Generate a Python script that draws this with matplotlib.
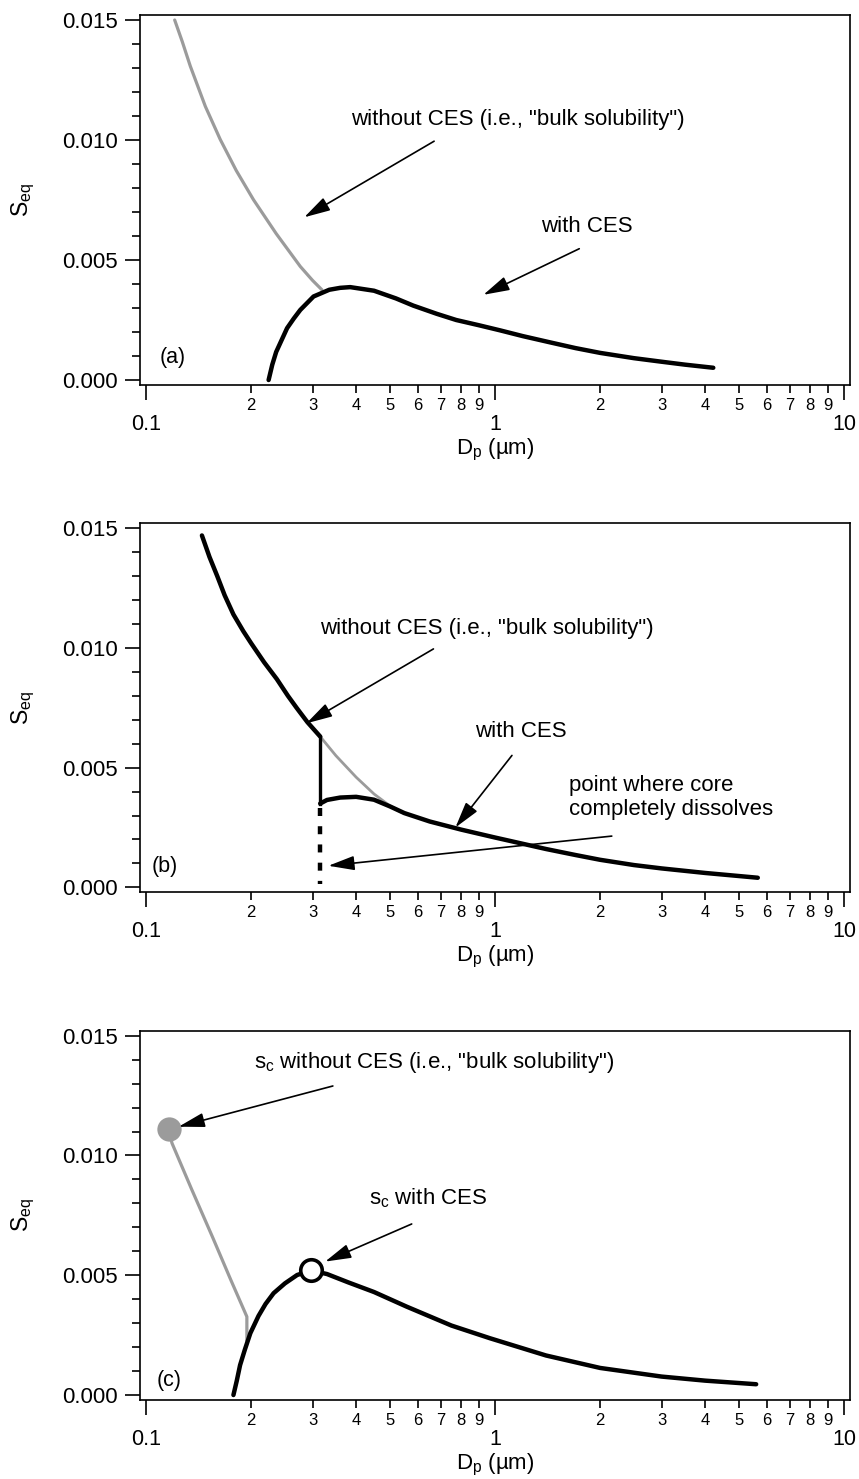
import numpy as np
import matplotlib
matplotlib.use("Agg")
import matplotlib.pyplot as plt
from matplotlib.ticker import FixedLocator, FuncFormatter, NullFormatter

plt.rcParams['font.family'] = ['Liberation Sans', 'DejaVu Sans']
plt.rcParams['mathtext.fontset'] = 'custom'
plt.rcParams['mathtext.rm'] = 'Liberation Sans'
plt.rcParams['mathtext.it'] = 'Liberation Sans:italic'

# ---- data (Dp in um, Seq) ----
# panel (a)
a_bulk_dp = [0.1208, 0.127, 0.1339, 0.1479, 0.1632, 0.1813, 0.2032, 0.236, 0.2767, 0.30, 0.319]
a_bulk_s = [0.0150, 0.0141, 0.01308, 0.0114, 0.01002, 0.00873, 0.00751, 0.0061, 0.00473,
            0.00415, 0.00376]
a_ces_dp = [0.2245, 0.23, 0.236, 0.2536, 0.265, 0.2767, 0.302, 0.335, 0.36, 0.3846, 0.45,
            0.52, 0.583, 0.68, 0.774, 0.9, 1.033, 1.2, 1.436, 1.7, 2.0, 2.5, 2.97, 3.5, 4.22]
a_ces_s = [0.0000, 0.00064, 0.00117, 0.00216, 0.00256, 0.00292, 0.00348, 0.00376, 0.00384,
           0.00387, 0.00372, 0.00340, 0.00310, 0.00276, 0.00250, 0.00228, 0.00207, 0.00183,
           0.00157, 0.00133, 0.00113, 0.00091, 0.00077, 0.00064, 0.00051]

# panel (b)
b_upper_dp = [0.1446, 0.152, 0.16, 0.168, 0.178, 0.19, 0.20, 0.218, 0.237, 0.255, 0.27,
              0.29, 0.3155]
b_upper_s = [0.0147, 0.0138, 0.0130, 0.0122, 0.0114, 0.0107, 0.0102, 0.0094, 0.0087, 0.0080,
             0.0075, 0.0069, 0.0063]
b_bulk_dp = [0.3155, 0.35, 0.40, 0.45, 0.50, 0.546]
b_bulk_s = [0.0063, 0.0055, 0.0046, 0.0039, 0.0034, 0.0031]
b_jump_dp = [0.3155, 0.3155]
b_jump_s = [0.0063, 0.0035]
b_core_dp = [0.3155, 0.3155]
b_core_s = [0.0033, 0.00015]
b_ces_dp = [0.3155, 0.33, 0.36, 0.40, 0.45, 0.50, 0.55, 0.65, 0.8, 1.0, 1.2, 1.4, 1.7, 2.0,
            2.5, 3.0, 4.0, 5.66]
b_ces_s = [0.0035, 0.00365, 0.00375, 0.00378, 0.00366, 0.00338, 0.0031, 0.00275, 0.00241,
           0.00208, 0.00182, 0.0016, 0.00135, 0.00115, 0.00093, 0.00079, 0.0006, 0.0004]

# panel (c)
c_bulk_dp = [0.116, 0.1187, 0.135, 0.155, 0.175, 0.1945, 0.1945]
c_bulk_s = [0.01109, 0.01051, 0.0086, 0.0066, 0.0048, 0.00327, 0.0023]
c_ces_dp = [0.178, 0.182, 0.186, 0.192, 0.199, 0.21, 0.22, 0.232, 0.25, 0.271, 0.297, 0.33,
            0.38, 0.45, 0.558, 0.75, 0.967, 1.4, 2.0, 3.0, 4.0, 5.6]
c_ces_s = [0.0000, 0.0006, 0.00125, 0.0019, 0.00258, 0.0033, 0.0038, 0.00425, 0.00466,
           0.00501, 0.0052, 0.00505, 0.0047, 0.0043, 0.00369, 0.0029, 0.00237, 0.00165,
           0.00113, 0.00077, 0.0006, 0.00045]
c_sc_bulk = (0.116, 0.01109)
c_sc_ces = (0.297, 0.0052)

BLACK_LW = 3.2
GRAY = '#9b9b9b'

fig = plt.figure(figsize=(8.59, 14.79), dpi=100)

L, W = 140 / 859, 710 / 859
frame_bottoms = [385, 892.3, 1400]
frame_tops = [15, 523.3, 1030.7]
axes = [fig.add_axes([L, 1 - b / 1479, W, (b - t) / 1479])
        for t, b in zip(frame_tops, frame_bottoms)]


def minor_fmt(v, pos):
    d = int(round(v / 10 ** np.floor(np.log10(v) + 1e-9)))
    return str(d)


def style_axis(ax):
    ax.set_xscale('log')
    ax.set_xlim(0.0961, 10.40)
    ax.set_ylim(-0.000208, 0.015208)
    ax.xaxis.set_major_locator(FixedLocator([0.1, 1, 10]))
    ax.xaxis.set_major_formatter(FuncFormatter(lambda v, p: {0.1: '0.1', 1: '1', 10: '10'}.get(v, '')))
    minors = [m * 10.0 ** e for e in (-1, 0) for m in range(2, 10)]
    ax.xaxis.set_minor_locator(FixedLocator(minors))
    ax.xaxis.set_minor_formatter(FuncFormatter(minor_fmt))
    ax.yaxis.set_major_locator(FixedLocator([0.0, 0.005, 0.010, 0.015]))
    ax.yaxis.set_major_formatter(FuncFormatter(lambda v, p: '%.3f' % v))
    ax.yaxis.set_minor_locator(FixedLocator([i * 0.001 for i in range(16) if i % 5]))
    ax.yaxis.set_minor_formatter(NullFormatter())
    for s in ax.spines.values():
        s.set_linewidth(1.2)
    ax.tick_params(axis='x', which='major', direction='out', length=10.5, width=1.2,
                   labelsize=15.5, pad=10.5)
    ax.tick_params(axis='x', which='minor', direction='out', length=6, width=1.2,
                   labelsize=12, pad=3.5)
    ax.tick_params(axis='y', which='major', direction='out', length=11, width=1.2,
                   labelsize=16, pad=5)
    ax.tick_params(axis='y', which='minor', direction='out', length=5.5, width=1.2)


def arrow(ax, tail, tip):
    ax.annotate('', xy=tip, xytext=tail,
                arrowprops=dict(arrowstyle='-|>,head_length=0.8,head_width=0.22',
                                color='k', lw=1.2, shrinkA=0, shrinkB=0,
                                mutation_scale=20))


for ax in axes:
    style_axis(ax)

# (a)
ax = axes[0]
ax.plot(a_bulk_dp, a_bulk_s, color=GRAY, lw=2.3, solid_capstyle='round')
ax.plot(a_ces_dp, a_ces_s, color='k', lw=BLACK_LW, solid_capstyle='round')
ax.text(1.166, 0.01085, 'without CES (i.e., "bulk solubility")', fontsize=16,
        ha='center', va='center')
arrow(ax, (0.669, 0.00995), (0.284, 0.00678))
ax.text(1.83, 0.0064, 'with CES', fontsize=16, ha='center', va='center')
arrow(ax, (1.743, 0.00547), (0.926, 0.00355))
ax.text(0.027, 0.073, '(a)', transform=ax.transAxes, fontsize=15.5, ha='left', va='center')

# (b)
ax = axes[1]
ax.plot(b_bulk_dp, b_bulk_s, color=GRAY, lw=2.0, solid_capstyle='round')
ax.plot(b_upper_dp, b_upper_s, color='k', lw=BLACK_LW, solid_capstyle='round')
ax.plot(b_jump_dp, b_jump_s, color='k', lw=2.4)
ax.plot(b_ces_dp, b_ces_s, color='k', lw=BLACK_LW, solid_capstyle='round')
ax.plot(b_core_dp, b_core_s, color='k', lw=BLACK_LW, linestyle=(0, (1.8, 2.3)),
        dash_capstyle='butt')
ax.text(0.947, 0.01083, 'without CES (i.e., "bulk solubility")', fontsize=16,
        ha='center', va='center')
arrow(ax, (0.666, 0.00996), (0.288, 0.00685))
ax.text(1.187, 0.00651, 'with CES', fontsize=16, ha='center', va='center')
arrow(ax, (1.118, 0.00551), (0.77, 0.0025))
ax.text(1.63, 0.00376, 'point where core\ncompletely dissolves', fontsize=16,
        ha='left', va='center', linespacing=1.2)
arrow(ax, (2.16, 0.00214), (0.333, 0.0009))
ax.text(0.0165, 0.069, '(b)', transform=ax.transAxes, fontsize=15.5, ha='left', va='center')

# (c)
ax = axes[2]
ax.plot(c_bulk_dp, c_bulk_s, color=GRAY, lw=2.3)
ax.plot(c_ces_dp, c_ces_s, color='k', lw=BLACK_LW, solid_capstyle='round')
ax.plot(*c_sc_bulk, 'o', ms=17.5, color=GRAY, mec=GRAY, mew=0)
ax.plot(*c_sc_ces, 'o', ms=15.5, mfc='white', mec='k', mew=2.6)
ax.text(0.669, 0.01386, 's$_\\mathrm{c}$ without CES (i.e., "bulk solubility")', fontsize=16,
        ha='center', va='center')
arrow(ax, (0.343, 0.0129), (0.124, 0.0112))
ax.text(0.644, 0.00821, 's$_\\mathrm{c}$ with CES', fontsize=16, ha='center', va='center')
arrow(ax, (0.577, 0.00714), (0.326, 0.00557))
ax.text(0.024, 0.054, '(c)', transform=ax.transAxes, fontsize=15.5, ha='left', va='center')

# axis titles
for t, b in zip(frame_tops, frame_bottoms):
    fig.text(23.5 / 859, 1 - (t + b) / 2 / 1479, 'S$_\\mathrm{eq}$', rotation=90,
             fontsize=16.5, ha='center', va='center')
    fig.text(495 / 859, 1 - (b + 65) / 1479, 'D$_\\mathrm{p}$ (\u00b5m)', fontsize=16,
             ha='center', va='center')

fig.savefig('out.png', dpi=100)
